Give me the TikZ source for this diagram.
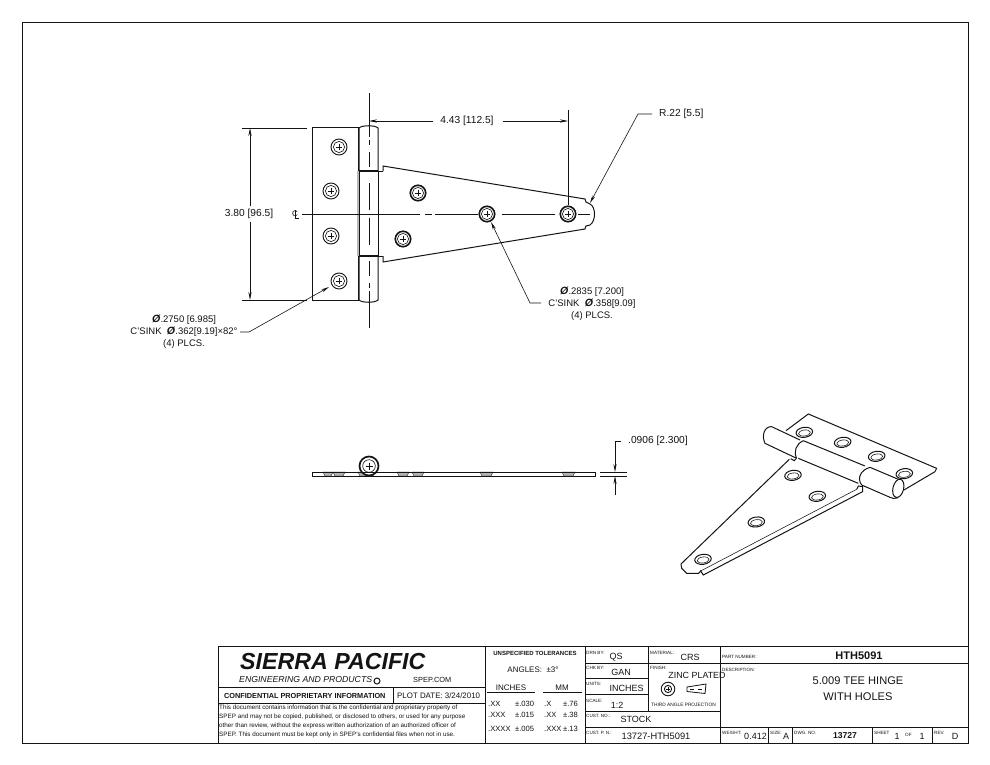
\documentclass[tikz,border=0pt]{standalone}
\usepackage{fontspec}
\setmainfont{Liberation Sans}
\usetikzlibrary{arrows.meta}
\newcommand{\fs}[1]{\fontsize{#1}{#1}\selectfont}
\newcommand{\phisym}{\textbf{\textit{\fontsize{10.5}{10}\selectfont Ø}}}
\definecolor{ink}{gray}{0.08}
\tikzset{
  ink/.style={draw=ink,line width=1pt},
  thin/.style={draw=ink,line width=0.55pt},
  dimline/.style={draw=ink,line width=0.6pt},
  arr/.style={dimline,-{Stealth[length=8pt,width=3.2pt]}},
  box/.style={draw=ink,line width=0.8pt},
  txt/.style={inner sep=0pt,text=ink,font=\fs{10.2}},
  mtxt/.style={inner sep=0pt,text=ink,font=\fs{9.5}},
  lab/.style={inner sep=0pt,anchor=west,text=ink,font=\fs{4.6}},
  val/.style={inner sep=0pt,text=ink,font=\fs{9}},
  hole/.style={circle,draw=ink,line width=0.9pt,fill=white,minimum size=16pt,inner sep=0pt},
  sect/.style={fill=gray!60,draw=ink,line width=0.4pt},
}
\begin{document}
\begin{tikzpicture}[x=1pt,y=-1pt]
\useasboundingbox (0,0) rectangle (990,765);
\fill[white] (0,0) rectangle (990,765);
% frame
\draw[box] (22,22) rectangle (968,743);

% ===== front view =====
\draw[ink,fill=white] (312,128) rectangle (359,300);
\draw[ink] (383,171) -- (383,166) -- (585,199) -- (586,202) -- (590,204)
  .. controls (596,207) and (596,221) .. (590,225) -- (586,226) -- (585,229) -- (383,262) -- (383,256);
\draw[ink,line width=1.1pt] (359,128) -- (359,300);
\draw[ink,fill=white] (359,128) .. controls (362,125) and (375,125) .. (378,128) -- (378,171) -- (359,171) -- cycle;
\draw[ink,fill=white] (359,300) .. controls (362,303) and (375,303) .. (378,300) -- (378,256) -- (359,256) -- cycle;
\draw[ink] (378,171) -- (383,171);
\draw[ink] (378,256) -- (383,256);
\draw[ink] (378,171) -- (378,256);
\draw[draw=ink,line width=1.3pt] (358,171) -- (378,171);
\draw[draw=ink,line width=1.3pt] (358,256) -- (378,256);
\fill[gray!55] (356.6,171) rectangle (359.4,256);

% centre lines
\draw[thin] (369,93) -- (369,127);
\draw[thin] (369,301) -- (369,328);
\foreach \a/\b in {127/137,140/145,152/167,183/210,218/245,261/276,283/288,291/301}{
  \draw[thin] (369,\a) -- (369,\b);
}
\draw[draw=ink,line width=0.5pt] (302,214) -- (420,214) (425,214) -- (432,214) (435,214) -- (478,214);
\draw[draw=ink,line width=0.5pt] (502,214) -- (555,214) (578,214) -- (590,214);

% holes
\foreach \n/\x/\y in {h1/339/147,h2/331/191,h3/331/236,h4/339/281,h5/418/193,h6/403/239,h7/487/214,h8/568/214}{
  \node[hole] (\n) at (\x,\y) {};
  \draw[draw=ink,line width=0.6pt] (\x,\y) circle (5.6);
  \draw[draw=ink,line width=0.7pt] (\x-3.3,\y) -- (\x+3.3,\y) (\x,\y-3.3) -- (\x,\y+3.3);
}
\foreach \n in {h5,h6,h7,h8}{\draw[draw=ink,line width=1.4pt] (\n) circle (7.6);}

% centre-line symbol
\node[inner sep=0pt,text=ink,font=\fs{8}] (cl) at (295,213.5) {C};
\draw[draw=ink,line width=0.5pt] (295,210) -- (295,218.5) -- (299,218.5);

% dimensions
\draw[thin] (242,128) -- (307,128);
\draw[thin] (242,300) -- (307,300);
\node[txt] (d380) at (249,214) {3.80 [96.5]};
\coordinate (d380t) at (250,128);
\coordinate (d380b) at (250,300);
\draw[arr] (d380.north -| d380t) ++(0,-3) -- (d380t);
\draw[arr] (d380.south -| d380b) ++(0,3) -- (d380b);

\node[txt] (d443) at (467,121) {4.43 [112.5]};
\coordinate (d443l) at (369,121);
\coordinate (d443r) at (568,121);
\draw[arr] (433,121) -- (d443l);
\draw[arr] (503,121) -- (d443r);
\draw[thin] (568,110) -- (568,205);

\node[txt,anchor=west] (r22) at (659,114) {R.22 [5.5]};
\coordinate (r22k) at (638,114);
\draw[arr] (652,114) -- (r22k) -- (590,203);

\node[mtxt,align=center] (t1) at (592,304) {\phisym.2835 [7.200]\\[2.3pt]C'SINK \ \phisym.358[9.09]\\[2.3pt](4) PLCS.};
\coordinate (t1k) at (530,303);
\draw[arr] (541,303) -- (t1k) -- (491,222);

\node[mtxt,align=center] (t2) at (184,332) {\phisym.2750 [6.985]\\[2.3pt]C'SINK \ \phisym.362[9.19]×82°\\[2.3pt](4) PLCS.};
\coordinate (t2k) at (249,332);
\draw[arr] (240,332) -- (t2k) -- (329,287);

% ===== side view =====
\draw[ink,fill=white] (312,472) rectangle (595,476);
\foreach \a/\b in {323/333,333/345,358/375,397/409,412/424,480/493,562/575}{
  \path[sect] (\a,472) -- (\b,472) -- (\b-2,476) -- (\a+2,476) -- cycle;
}
\draw[ink,line width=1.7pt,fill=white] (369,466) circle (9.5);
\draw[draw=ink,line width=0.6pt] (369,466) circle (6.3);
\draw[draw=ink,line width=0.7pt] (365.5,466) -- (372.5,466) (369,462.5) -- (369,469.5);
\draw[ink] (312,472) -- (595,472) (312,476) -- (595,476);
\draw[thin] (600,472) -- (627,472);
\draw[thin] (600,476) -- (627,476);
\node[txt,anchor=west] (d906) at (628,441) {.0906 [2.300]};
\coordinate (d906t) at (615,472);
\coordinate (d906b) at (615,476);
\draw[arr] (621,441) -- (615,441) -- (d906t);
\draw[arr] (615,495) -- (d906b);

% ===== isometric view =====
\begin{scope}[shift={(660,400)},x=0.3333pt,y=-0.3333pt]
  \draw[ink,fill=white] (378,92) -- (445,42) -- (830,205) -- (825,215) -- (732,270);
  \draw[ink] (392,176) -- (403,182) -- (408,176);
  \draw[ink] (388,178) -- (63,492) -- (65,505) -- (80,520) -- (116,520) -- (122,513) -- (130,525) -- (608,275) -- (608,260) -- (595,258) -- (590,268);
  \draw[thin] (122,513) -- (590,268);
  % holes
  \foreach \x/\y in {433/97,548/127,650/169,733/221,399/226,472/289,289/366,129/478}{
    \draw[ink,fill=white,rotate around={8:(\x,\y)}] (\x,\y) ellipse (25 and 15);
    \draw[thin,rotate around={8:(\x,\y)}] (\x,\y+2) ellipse (18 and 9);
  }
  % knuckle
  \fill[white] (335,80) .. controls (315,80) and (305,105) .. (315,130) -- (690,292) -- (720,240) -- cycle;
  \draw[ink] (420,120) -- (335,80) .. controls (315,78) and (303,105) .. (315,130) -- (410,175);
  \draw[ink] (430,122) -- (615,198);
  \draw[ink] (630,202) -- (720,240);
  \draw[ink] (415,175) -- (595,250);
  \draw[ink] (605,255) -- (690,292) .. controls (697,297) and (705,296) .. (715,293);
  \draw[ink] (430,122) .. controls (408,132) and (400,155) .. (410,175);
  \draw[ink] (630,202) .. controls (602,210) and (590,235) .. (605,255);
  \draw[ink,fill=white,rotate around={-14:(715,265)}] (715,265) ellipse (16 and 28);
\end{scope}

% ===== title block =====
\draw[box] (218,646) rectangle (968,743);
\draw[box] (218,687) -- (485,687);
\draw[box] (218,703) -- (485,703);
\draw[box] (393,687) -- (393,703);
\draw[box] (485,646) -- (485,743);
\draw[box] (585,646) -- (585,743);
\draw[box] (648,646) -- (648,711);
\draw[box] (720,646) -- (720,743);
\draw[box] (585,663) -- (968,663);
\draw[box] (585,678) -- (648,678);
\draw[box] (585,694) -- (648,694);
\draw[box] (585,711) -- (720,711);
\draw[box] (585,727) -- (968,727);
\draw[box] (768,727) -- (768,743);
\draw[box] (792,727) -- (792,743);
\draw[box] (872,727) -- (872,743);
\draw[box] (932,727) -- (932,743);

\node[inner sep=0pt,anchor=west,text=ink,font=\fs{23.2}\bfseries\itshape] (sp) at (240,662) {SIERRA PACIFIC};
\node[inner sep=0pt,anchor=west,text=ink,font=\fs{8.7}\itshape] (ep) at (239,679) {ENGINEERING AND PRODUCTS};
\draw[draw=ink,line width=1pt] (377,681) circle (3);
\node[inner sep=0pt,text=ink,anchor=west,font=\fs{7.4}] (web) at (413,680) {SPEP.COM};
\node[inner sep=0pt,text=ink,anchor=west,font=\fs{7.3}\bfseries] (conf) at (224,695.5) {CONFIDENTIAL PROPRIETARY INFORMATION};
\node[inner sep=0pt,text=ink,anchor=west,font=\fs{7.9}] (plot) at (397,695.5) {PLOT DATE: 3/24/2010};
\node[inner sep=0pt,text=ink,anchor=north west,align=left,font=\fontsize{6.3}{9}\selectfont] (para) at (219,705) {This document contains information that is the confidential and proprietary property of\\SPEP and may not be copied, published, or disclosed to others, or used for any purpose\\other than review, without the express written authorization of an authorized officer of\\SPEP. This document must be kept only in SPEP's confidential files when not in use.};

\node[inner sep=0pt,text=ink,font=\fs{6}\bfseries] (ut) at (535,653) {UNSPECIFIED TOLERANCES};
\node[inner sep=0pt,text=ink,font=\fs{8}] (ang) at (533,670) {ANGLES: \ ±3°};
\node[inner sep=0pt,text=ink,font=\fs{8}] (inch) at (511,688) {INCHES};
\node[inner sep=0pt,text=ink,font=\fs{8}] (mm) at (562,688) {MM};
\draw[thin] (487,692) -- (535,692) (543,692) -- (582,692);
\foreach \a/\x/\y/\t in {a/488/704/.XX,b/515/704/±.030,c/544/704/.X,d/563/704/±.76,e/488/715/.XXX,f/515/715/±.015,g/544/715/.XX,h/563/715/±.38,i/488/729/.XXXX,j/515/729/±.005,k/544/729/.XXX,l/563/729/±.13}{
  \node[inner sep=0pt,text=ink,anchor=west,font=\fs{7.6}] (tol\a) at (\x,\y) {\t};
}

\node[lab] (l1) at (586,653) {DRN BY:};
\node[val] (v1) at (616,657) {QS};
\node[lab] (l2) at (586,668) {CHK BY:};
\node[val] (v2) at (621,672) {GAN};
\node[lab] (l3) at (586,684) {UNITS:};
\node[val] (v3) at (626.5,688) {INCHES};
\node[lab] (l4) at (586,701) {SCALE:};
\node[val] (v4) at (617,705) {1:2};
\node[lab] (l5) at (586,716) {CUST. NO.:};
\node[val] (v5) at (636,719) {STOCK};
\node[lab] (l6) at (586,733) {CUST. P. N.:};
\node[val,font=\fs{9.3}] (v6) at (656,736) {13727-HTH5091};
\node[lab] (l7) at (650,653) {MATERIAL:};
\node[val] (v7) at (690,657) {CRS};
\node[lab] (l8) at (650,668) {FINISH:};
\node[val,font=\fs{8.9}] (v8) at (697,675) {ZINC PLATED};
\node[lab,font=\fs{4.8}] (l9) at (651,705) {THIRD ANGLE PROJECTION};
% projection symbol
\draw[draw=ink,line width=0.9pt] (668,689) circle (6.8) (668,689) circle (3.6);
\draw[draw=ink,line width=0.5pt] (666,689) -- (670,689) (668,687) -- (668,691);
\draw[draw=ink,line width=0.8pt] (687,687) -- (706,684) -- (705,693.5) -- (687,691.5) -- cycle;
\draw[draw=ink,line width=0.5pt] (690,689) -- (694,689) (698,689) -- (702,689);

\node[lab] (l10) at (722,657) {PART NUMBER:};
\node[inner sep=0pt,text=ink,font=\fs{11}\bfseries] (v10) at (859,656) {HTH5091};
\node[lab] (l11) at (722,670) {DESCRIPTION:};
\node[inner sep=0pt,text=ink,font=\fs{11.1}] (v11a) at (858,681) {5.009 TEE HINGE};
\node[inner sep=0pt,text=ink,font=\fs{11.1}] (v11b) at (858,697) {WITH HOLES};

\node[lab] (l12) at (722,733) {WEIGHT:};
\node[val] (v12) at (755.5,736.5) {0.412};
\node[lab] (l13) at (770,733) {SIZE:};
\node[val] (v13) at (786,736) {A};
\node[lab] (l14) at (794,733) {DWG. NO.};
\node[inner sep=0pt,text=ink,font=\fs{8.6}\bfseries] (v14) at (845,736) {13727};
\node[lab] (l15) at (874,733) {SHEET};
\node[val] (v15) at (897,736) {1};
\node[lab] (l16) at (905,735) {OF};
\node[val] (v16) at (922,736) {1};
\node[lab] (l17) at (934,733) {REV.};
\node[val] (v17) at (955,736) {D};
\end{tikzpicture}
\end{document}
